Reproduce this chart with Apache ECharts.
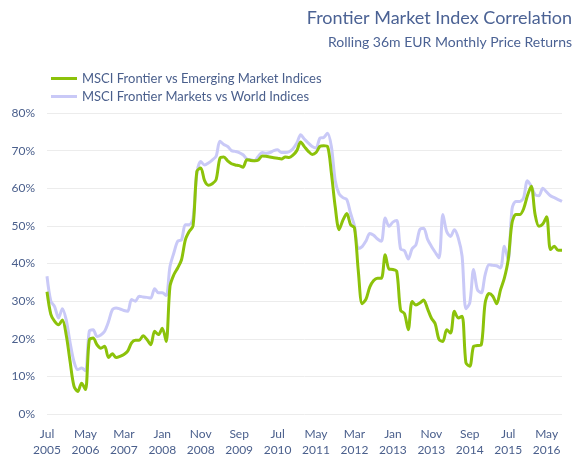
<!DOCTYPE html>
<html>
<head>
<meta charset="utf-8">
<script src="https://cdn.jsdelivr.net/npm/echarts@6/dist/echarts.min.js"></script>
<style>
  html, body { margin: 0; padding: 0; background: #fff; }
  #chart { width: 577px; height: 459px; }
</style>
</head>
<body>
<div id="chart"></div>
<script>
// monthly points, Jul 2005 .. Sep 2016
var monthNames = ['Jan','Feb','Mar','Apr','May','Jun','Jul','Aug','Sep','Oct','Nov','Dec']
var months = []
for (var k = 0; k < 135; k++) {
    var m = (6 + k) % 12
    var y = 2005 + Math.floor((6 + k) / 12)
    months.push(monthNames[m] + '\n' + y)
}

// correlation in %
var emergingCorr = [
    32.5, 26.5, 24.6, 23.7, 25.0, 21.0, 14.0, 7.5, 6.0, 8.2,
    6.5, 19.7, 20.2, 18.4, 17.5, 18.0, 15.0, 16.0, 15.0, 15.3,
    15.8, 16.7, 18.9, 19.6, 19.6, 20.8, 19.8, 18.4, 22.0, 21.1,
    22.8, 19.3, 33.9, 37.0, 38.8, 41.0, 46.3, 48.5, 50.0, 64.5,
    65.4, 62.0, 60.8, 61.2, 62.3, 68.0, 68.3, 67.3, 66.5, 66.2,
    66.0, 65.6, 67.6, 67.4, 67.3, 67.5, 68.6, 68.5, 68.3, 68.1,
    68.0, 67.8, 68.3, 68.2, 68.8, 70.0, 72.3, 71.0, 69.8, 69.0,
    69.5, 71.1, 71.3, 71.1, 64.0, 55.0, 49.0, 51.5, 53.3, 50.3,
    49.5, 38.0, 29.3, 30.5, 33.8, 35.5, 36.1, 36.1, 42.3, 38.5,
    38.4, 37.9, 27.6, 26.7, 22.4, 29.9, 29.0, 29.5, 30.3, 28.0,
    25.5, 24.0, 19.8, 19.3, 22.4, 21.5, 27.3, 25.5, 26.0, 13.6,
    12.7, 18.0, 18.2, 18.4, 29.5, 32.0, 31.3, 29.3, 33.0, 36.1,
    41.0, 50.8, 53.0, 53.0, 54.5, 58.0, 60.5, 53.0, 49.9, 50.5,
    52.4, 43.7, 44.6, 43.5, 43.5
]
var worldCorr = [
    36.6, 30.0, 28.5, 25.5, 28.0, 25.0, 19.0, 14.0, 11.8, 12.2,
    11.5, 22.0, 22.4, 20.6, 21.0, 22.0, 24.5, 27.7, 28.2, 27.9,
    27.5, 27.3, 30.4, 30.0, 31.3, 31.1, 31.0, 30.8, 33.3, 32.2,
    32.2, 31.5, 39.2, 42.8, 45.9, 46.3, 50.3, 50.3, 52.0, 64.0,
    67.1, 66.2, 66.7, 67.5, 68.5, 72.5, 71.6, 71.1, 70.0, 69.8,
    69.5, 68.9, 67.8, 67.6, 67.3, 68.5, 69.5, 69.3, 69.5, 70.0,
    70.2, 69.5, 69.5, 69.7, 70.5, 72.0, 74.2, 73.0, 72.0, 71.1,
    70.7, 73.3, 73.5, 74.6, 71.0, 62.0, 58.5, 57.5, 57.0, 53.3,
    50.0, 44.0, 44.5, 46.0, 48.0, 47.5, 46.5, 45.9, 52.1, 49.9,
    51.0, 51.4, 43.9, 43.4, 41.2, 43.9, 45.0, 49.0, 49.4, 46.5,
    44.6, 43.0, 41.5, 53.0, 48.5, 47.2, 49.0, 46.8, 42.0, 28.0,
    29.5, 38.4, 33.0, 32.2, 37.0, 39.7, 39.5, 39.4, 38.8, 44.6,
    41.0, 54.5, 56.5, 56.5, 57.5, 62.0, 60.5, 58.3, 58.0, 60.0,
    59.0, 58.0, 57.5, 57.0, 56.5
]

var textColor = '#4a5f8c'
var myChart = echarts.init(document.getElementById('chart'))
myChart.setOption({
    backgroundColor: '#fff',
    animation: false,
    textStyle: { fontFamily: 'Lato' },
    title: [
        {
            text: 'Frontier Market Index Correlation',
            right: 0, top: 4,
            textStyle: { fontSize: 18, fontWeight: 'normal', color: '#4b6294', fontFamily: 'Lato' }
        },
        {
            text: 'Rolling 36m EUR Monthly Price Returns',
            right: 0, top: 30,
            textStyle: { fontSize: 14, fontWeight: 'normal', color: '#4b6294', fontFamily: 'Lato' }
        }
    ],
    legend: {
        orient: 'vertical',
        left: 46, top: 67,
        itemWidth: 26, itemHeight: 3, itemGap: 5,
        icon: 'rect',
        textStyle: { fontSize: 13, color: textColor, fontFamily: 'Lato' },
        data: ['MSCI Frontier vs Emerging Market Indices', 'MSCI Frontier Markets vs World Indices']
    },
    grid: { left: 47, right: 15, top: 113, bottom: 45 },
    xAxis: {
        type: 'category',
        data: months,
        boundaryGap: false,
        axisLine: { show: false },
        axisTick: { show: false },
        axisLabel: { interval: 9, color: textColor, fontSize: 12, lineHeight: 16, margin: 12 },
        splitLine: { show: false }
    },
    yAxis: {
        type: 'value',
        min: 0, max: 80, interval: 10,
        axisLabel: { formatter: '{value}%', color: textColor, fontSize: 12, margin: 12 },
        axisLine: { show: false },
        axisTick: { show: false },
        splitLine: { lineStyle: { color: '#ececec', width: 1 } }
    },
    series: [
        {
            name: 'MSCI Frontier Markets vs World Indices',
            type: 'line',
            data: worldCorr,
            symbol: 'none',
            smooth: 0.3,
            z: 2,
            lineStyle: { color: '#c9c9f7', width: 3 },
            itemStyle: { color: '#c9c9f7' }
        },
        {
            name: 'MSCI Frontier vs Emerging Market Indices',
            type: 'line',
            data: emergingCorr,
            symbol: 'none',
            smooth: 0.3,
            z: 3,
            lineStyle: { color: '#8cc20a', width: 3 },
            itemStyle: { color: '#8cc20a' }
        }
    ]
})
</script>
</body>
</html>
